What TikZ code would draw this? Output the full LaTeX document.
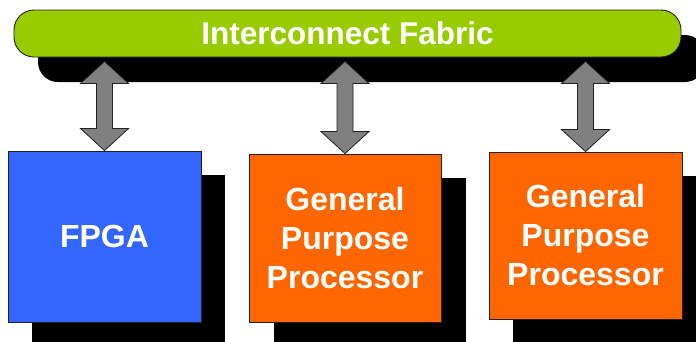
\documentclass[tikz,border=0pt]{standalone}
\usepackage{fontspec}
\setmainfont{Liberation Sans}
\usetikzlibrary{shadows,calc}

\definecolor{fabricgreen}{HTML}{99CC00}
\definecolor{fpgablue}{HTML}{3366FF}
\definecolor{cpuorange}{HTML}{FF6600}
\definecolor{linkgray}{HTML}{808080}
\definecolor{edgedark}{HTML}{222222}

\tikzset{
  unitbox/.style={draw=edgedark, line width=0.9pt, text=white, align=center,
    font=\bfseries\fontsize{32}{39}\selectfont, inner sep=0pt},
  deepshadow/.style={drop shadow={shadow xshift=#1, shadow yshift=-24pt,
    fill=black, opacity=1}},
  linkarrow/.style={draw=edgedark, line width=0.8pt, fill=linkgray, line join=miter},
}

% two-headed link between a top point and a bottom point on the same vertical
\newcommand\linkbetween[2]{%
  \draw[linkarrow] let \p1=(#1), \p2=(#2) in
    (\x1,\y1) -- (\x1+24pt,\y1-22pt) -- (\x1+8pt,\y1-22pt)
    -- (\x1+8pt,\y2+22pt) -- (\x1+24pt,\y2+22pt) -- (\x1,\y2)
    -- (\x1-24pt,\y2+22pt) -- (\x1-8pt,\y2+22pt)
    -- (\x1-8pt,\y1-22pt) -- (\x1-24pt,\y1-22pt) -- cycle;}

\begin{document}
\begin{tikzpicture}[x=1pt,y=-1pt]
  \clip (0,0) rectangle (696,341);
  \fill[white] (0,0) rectangle (696,341);

  % interconnect bar
  \node[draw=edgedark, line width=0.9pt, fill=fabricgreen, rounded corners=20pt,
        minimum width=667pt, minimum height=47pt, inner sep=0pt,
        text=white, font=\bfseries\fontsize{31.5}{36}\selectfont,
        drop shadow={shadow xshift=24pt, shadow yshift=-25pt, fill=black, opacity=1}]
    (bar) at (347.5,33.5) {Interconnect Fabric};

  % processing elements
  \node[unitbox, fill=fpgablue, minimum width=193pt, minimum height=171pt,
        deepshadow=24pt] (fpga) at (104.5,236.5) {FPGA};
  \node[unitbox, fill=cpuorange, minimum width=192pt, minimum height=168pt,
        deepshadow=25pt] (gpp1) at (345,238) {General\\Purpose\\Processor};
  \node[unitbox, fill=cpuorange, minimum width=193pt, minimum height=167pt,
        deepshadow=24pt] (gpp2) at (585.5,235.5) {General\\Purpose\\Processor};

  % link end points
  \coordinate (t1) at ([yshift=-4pt]bar.south -| fpga.north);
  \coordinate (t2) at ([yshift=-4pt]bar.south -| gpp1.north);
  \coordinate (t3) at ([yshift=-4pt]bar.south -| gpp2.north);

  \linkbetween{t1}{fpga.north}
  \linkbetween{t2}{gpp1.north}
  \linkbetween{t3}{gpp2.north}
\end{tikzpicture}
\end{document}
